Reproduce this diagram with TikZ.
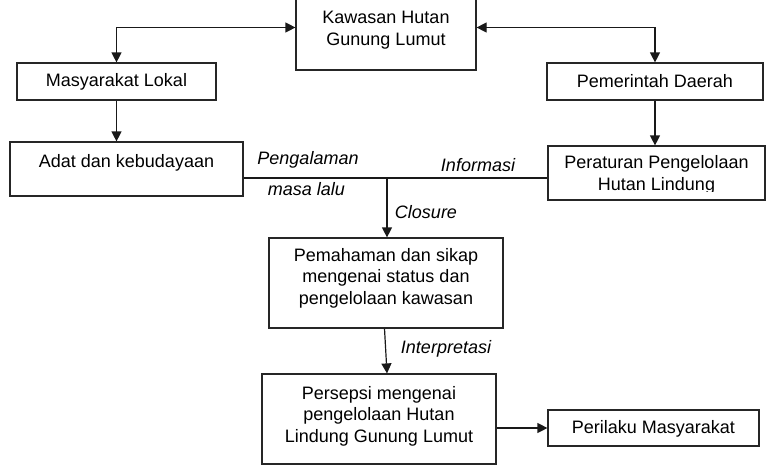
\documentclass[tikz,border=0pt]{standalone}
\usepackage{fontspec}
\setmainfont{Liberation Sans}
\usetikzlibrary{arrows.meta,calc}
\begin{document}
\begin{tikzpicture}[x=1pt,y=-1pt,
  box/.style={draw=black!85,line width=1.2pt,inner sep=0pt},
  txt/.style={inner sep=0pt,align=center,font=\fontsize{18}{21.5}\selectfont},
  lbl/.style={inner sep=0pt,font=\fontsize{18}{21.5}\selectfont\itshape},
  con/.style={line width=1.2pt,draw=black!90},
  arr/.style={con,-{Triangle[length=10pt,width=10pt]}},
  darr/.style={con,{Triangle[length=10pt,width=10pt]}-{Triangle[length=10pt,width=10pt]}}]
\useasboundingbox (0,0) rectangle (768,474);
% boxes
\node[box,minimum width=180,minimum height=85] (kaw) at (386,27.5) {};
\node[txt] (kawt) at (386,30) {Kawasan Hutan\\Gunung Lumut};
\node[box,minimum width=199,minimum height=37] (mas) at (116.5,81.5) {};
\node[txt] (mast) at (116.5,82) {Masyarakat Lokal};
\node[box,minimum width=216,minimum height=37] (pem) at (655,81.5) {};
\node[txt] (pemt) at (655,81) {Pemerintah Daerah};
\node[box,minimum width=233,minimum height=54] (adat) at (126.5,169) {};
\node[txt] (adatt) at (126.5,163) {Adat dan kebudayaan};
\node[box,minimum width=217,minimum height=54] (per) at (656.5,173) {};
\begin{scope}
\clip (540,140) rectangle (770,191);
\node[txt] (pert) at (656.5,175) {Peraturan Pengelolaan\\Hutan Lindung};
\end{scope}
\node[box,minimum width=234,minimum height=90] (pmh) at (386,283) {};
\node[txt] (pmht) at (386,278) {Pemahaman dan sikap\\mengenai status dan\\pengelolaan kawasan};
\node[box,minimum width=234,minimum height=90] (prs) at (379,419) {};
\node[txt] (prst) at (379,416) {Persepsi mengenai\\pengelolaan Hutan\\Lindung Gunung Lumut};
\node[box,minimum width=211,minimum height=36] (pri) at (653.5,428) {};
\node[txt] (prit) at (653.5,429) {Perilaku Masyarakat};
% junction
\coordinate (j) at (387,178);
% connectors
\draw[darr] (kaw.west) -| (mas.north);
\draw[darr] (kaw.east) -| (pem.north);
\draw[arr] (mas.south) -- (mas.south |- adat.north);
\draw[arr] (pem.south) -- (pem.south |- per.north);
\draw[con] (adat.east |- j) -- (per.west |- j);
\draw[arr] (j) -- (j |- pmh.north);
\draw[arr] ($(pmh.south)+(-1.5,0)$) -- ($(prs.north)+(8,0)$);
\draw[arr] (prs.east |- pri.west) -- (pri.west);
% labels
\node[lbl] (l1) at (308,160) {Pengalaman};
\node[lbl] (l2) at (306.5,189) {masa lalu};
\node[lbl] (l3) at (478,165) {Informasi};
\node[lbl] (l4) at (426,212) {Closure};
\node[lbl] (l5) at (446,349) {Interpretasi};
\end{tikzpicture}
\end{document}
